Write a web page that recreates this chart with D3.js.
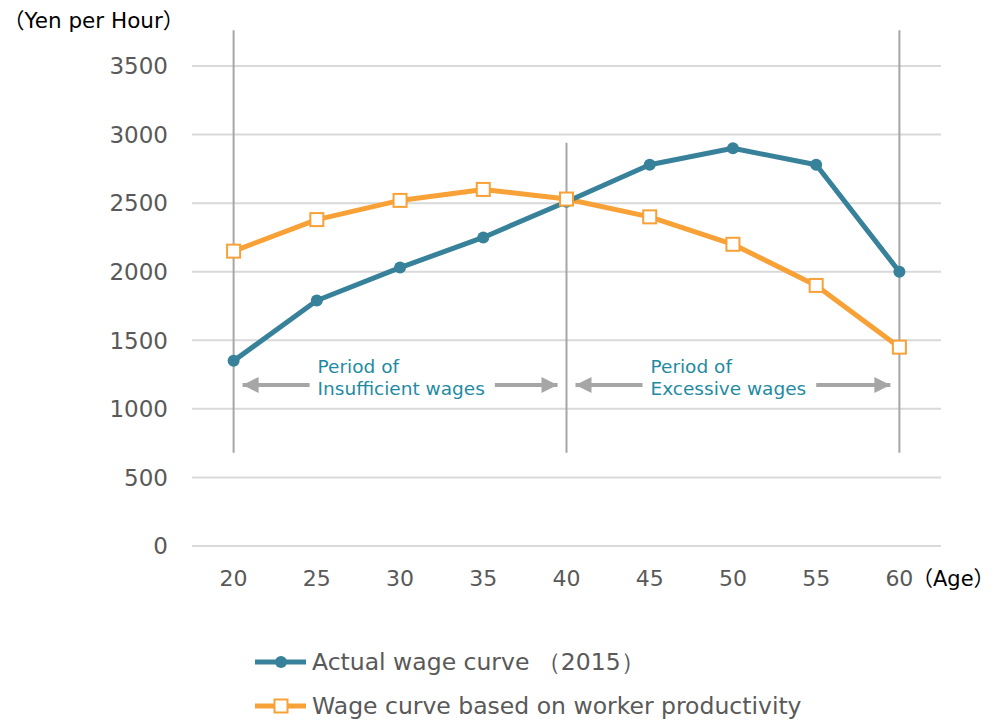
<!DOCTYPE html>
<html>
<head>
<meta charset="utf-8">
<script src="https://cdn.jsdelivr.net/npm/d3@7.9.0/dist/d3.min.js"></script>
<style>
  body { margin: 0; background: #fff; }
  svg { display: block; font-family: "DejaVu Sans", Verdana, sans-serif; }
</style>
</head>
<body>
<svg id="chart"></svg>
<script>
const width = 998;
const height = 720;

// data
const ages = [20, 25, 30, 35, 40, 45, 50, 55, 60];
const actualWage = [1350, 1790, 2030, 2250, 2510, 2780, 2900, 2780, 2000];
const productivityWage = [2150, 2380, 2520, 2600, 2530, 2400, 2200, 1900, 1450];
const yTicks = [0, 500, 1000, 1500, 2000, 2500, 3000, 3500];
const seriesNames = ["Actual wage curve \uFF082015\uFF09", "Wage curve based on worker productivity"];
// vertical reference lines: [age, top value, bottom value]
const refLines = [[20, 3760, 680], [40, 2940, 680], [60, 3760, 680]];
const periods = [
  {from: 20, to: 40, label: ["Period of", "Insufficient wages"]},
  {from: 40, to: 60, label: ["Period of", "Excessive wages"]}
];

const teal = "#37829a";
const orange = "#f8a137";
const gray = "#a6a6a6";

const svg = d3.select("#chart").attr("width", width).attr("height", height);

const x = d3.scaleBand().domain(ages).range([192, 941]);
const xc = d => x(d) + x.bandwidth() / 2;
const y = d3.scaleLinear().domain([0, 3500]).range([546, 66]);

// gridlines
svg.append("g")
  .selectAll("line")
  .data(yTicks)
  .join("line")
  .attr("x1", 192).attr("x2", 941)
  .attr("y1", d => y(d)).attr("y2", d => y(d))
  .attr("stroke", "#d9d9d9").attr("stroke-width", 2);

// y tick labels
svg.append("g")
  .selectAll("text")
  .data(yTicks)
  .join("text")
  .attr("x", 168).attr("y", d => y(d))
  .attr("dy", "0.36em")
  .attr("text-anchor", "end")
  .attr("fill", "#595959")
  .style("font-size", "23px")
  .text(d => d);

// x tick labels
svg.append("g")
  .selectAll("text")
  .data(ages)
  .join("text")
  .attr("x", d => xc(d)).attr("y", 578)
  .attr("dy", "0.36em")
  .attr("text-anchor", "middle")
  .attr("fill", "#595959")
  .style("font-size", "22px")
  .text(d => d);

svg.append("text")
  .attr("x", 912).attr("y", 578).attr("dy", "0.36em")
  .style("font-size", "21px")
  .style("font-family", "'DejaVu Sans', 'Noto Sans CJK JP', sans-serif")
  .attr("fill", "#000")
  .text("\uFF08Age\uFF09");

svg.append("text")
  .attr("x", 3).attr("y", 20).attr("dy", "0.36em")
  .style("font-size", "21.5px")
  .style("font-family", "'DejaVu Sans', 'Noto Sans CJK JP', sans-serif")
  .attr("fill", "#000")
  .text("\uFF08Yen per Hour\uFF09");

// reference lines
svg.append("g")
  .selectAll("line")
  .data(refLines)
  .join("line")
  .attr("x1", d => xc(d[0])).attr("x2", d => xc(d[0]))
  .attr("y1", d => y(d[1])).attr("y2", d => y(d[2]))
  .attr("stroke", gray).attr("stroke-width", 2);

// arrows
const defs = svg.append("defs");
defs.append("marker")
  .attr("id", "arrow")
  .attr("viewBox", "0 0 10 10")
  .attr("refX", 10).attr("refY", 5)
  .attr("markerWidth", 4.2).attr("markerHeight", 4)
  .attr("markerUnits", "strokeWidth")
  .attr("orient", "auto-start-reverse")
  .append("path")
  .attr("d", "M0,0 L10,5 L0,10 Z")
  .attr("fill", gray);

const arrowY = 385;
periods.forEach(p => {
  const x0 = xc(p.from) + 9;
  const x1 = xc(p.to) - 9;
  const tx = x0 + 75;
  const g = svg.append("g");
  const label = g.append("text")
    .attr("x", tx).attr("y", 366)
    .attr("fill", "#1f8ba2")
    .style("font-size", "18.5px");
  label.append("tspan").attr("x", tx).attr("dy", "0.36em").text(p.label[0]);
  label.append("tspan").attr("x", tx).attr("dy", "1.2em").text(p.label[1]);
  const tw = label.node().getBBox().width;
  g.append("line")
    .attr("x1", tx - 8).attr("x2", x0)
    .attr("y1", arrowY).attr("y2", arrowY)
    .attr("stroke", gray).attr("stroke-width", 4)
    .attr("marker-end", "url(#arrow)");
  g.append("line")
    .attr("x1", tx + tw + 10).attr("x2", x1)
    .attr("y1", arrowY).attr("y2", arrowY)
    .attr("stroke", gray).attr("stroke-width", 4)
    .attr("marker-end", "url(#arrow)");
});

const line = d3.line().x((d, i) => xc(ages[i])).y(d => y(d));

// productivity curve
svg.append("path")
  .datum(productivityWage)
  .attr("d", line)
  .attr("fill", "none").attr("stroke", orange).attr("stroke-width", 5)
  .attr("stroke-linejoin", "round");

// actual curve
svg.append("path")
  .datum(actualWage)
  .attr("d", line)
  .attr("fill", "none").attr("stroke", teal).attr("stroke-width", 5)
  .attr("stroke-linejoin", "round");

svg.append("g")
  .selectAll("circle")
  .data(actualWage)
  .join("circle")
  .attr("cx", (d, i) => xc(ages[i])).attr("cy", d => y(d))
  .attr("r", 6).attr("fill", teal);

svg.append("g")
  .selectAll("rect")
  .data(productivityWage)
  .join("rect")
  .attr("x", (d, i) => xc(ages[i]) - 6.5).attr("y", d => y(d) - 6.5)
  .attr("width", 13).attr("height", 13)
  .attr("fill", "#fff").attr("stroke", orange).attr("stroke-width", 2);

// legend
const legend = svg.append("g");
const legendY = [662, 706];
legend.append("line").attr("x1", 255).attr("x2", 306).attr("y1", legendY[0]).attr("y2", legendY[0])
  .attr("stroke", teal).attr("stroke-width", 5);
legend.append("circle").attr("cx", 281).attr("cy", legendY[0]).attr("r", 6).attr("fill", teal);
legend.append("line").attr("x1", 255).attr("x2", 306).attr("y1", legendY[1]).attr("y2", legendY[1])
  .attr("stroke", orange).attr("stroke-width", 5);
legend.append("rect").attr("x", 274.5).attr("y", legendY[1] - 6.5).attr("width", 13).attr("height", 13)
  .attr("fill", "#fff").attr("stroke", orange).attr("stroke-width", 2);
legend.selectAll("text")
  .data(seriesNames)
  .join("text")
  .attr("x", 312).attr("y", (d, i) => legendY[i]).attr("dy", "0.36em")
  .attr("fill", "#595959")
  .style("font-size", "23.5px")
  .text(d => d);
</script>
</body>
</html>
